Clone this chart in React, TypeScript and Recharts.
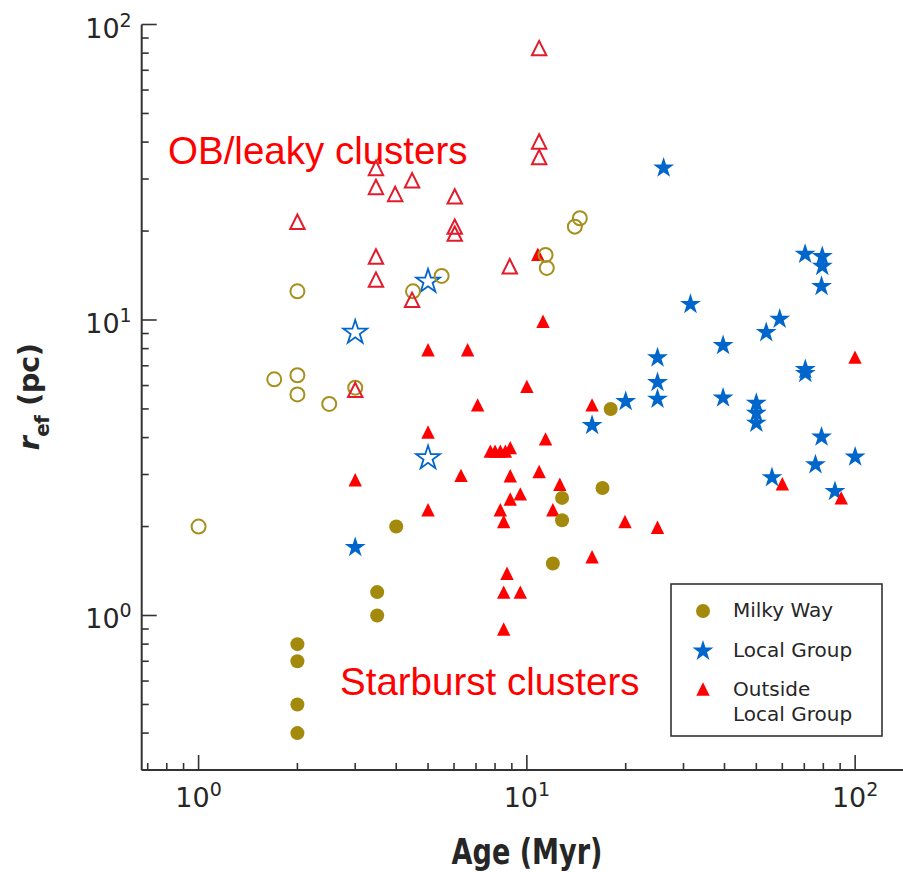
import React from 'react';
import { ScatterChart, Scatter, XAxis, YAxis } from 'recharts';

// ---- data: age (Myr) and effective radius r_ef (pc) ----
// Milky Way, young massive clusters (filled circles)
const mwAge = [2, 2, 2, 2, 3.5, 3.5, 4.0, 12, 12.8, 12.8, 17, 18];
const mwRef = [0.8, 0.7, 0.5, 0.4, 1.2, 1.0, 2.0, 1.5, 2.5, 2.1, 2.7, 5.0];
// Milky Way, OB/leaky associations (open circles)
const mwLeakyAge = [1.0, 1.7, 2, 2, 2, 2.5, 3.0, 4.5, 5.5, 11.4, 11.5, 14.0, 14.5];
const mwLeakyRef = [2.0, 6.3, 6.5, 5.6, 12.5, 5.2, 5.9, 12.5, 14.1, 16.6, 15.0, 20.7, 22.1];
// Local Group (filled stars)
const lgAge = [3.0, 15.8, 20, 25, 25, 25, 26.1, 31.5, 39.6, 39.6, 50, 50, 50, 53.6, 55.8, 58.9, 70.4, 70.5, 70.5, 75.7, 79.4, 79.4, 79, 79, 86.8, 100];
const lgRef = [1.7, 4.4, 5.3, 5.4, 6.15, 7.45, 32.7, 11.3, 8.2, 5.45, 5.23, 4.84, 4.48, 9.07, 2.93, 10.07, 16.7, 6.8, 6.6, 3.24, 16.4, 15.2, 13.0, 4.02, 2.63, 3.44];
// Local Group, leaky (open stars)
const lgLeakyAge = [3.0, 5.0, 5.0];
const lgLeakyRef = [9.07, 13.5, 3.41];
// Outside the Local Group (filled triangles)
const olgAge = [3.0, 5.0, 5.0, 5.0, 6.3, 6.6, 7.08, 7.74, 8.0, 8.3, 8.6, 8.9, 8.9, 8.9, 9.55, 8.3, 8.5, 8.7, 8.5, 9.55, 8.5, 10.0, 10.8, 10.9, 11.2, 11.4, 12.6, 12.0, 15.8, 15.8, 19.9, 25, 60, 90.7, 99.9];
const olgRef = [2.88, 7.93, 4.18, 2.28, 2.98, 7.93, 5.16, 3.6, 3.6, 3.6, 3.6, 3.7, 2.97, 2.48, 2.58, 2.28, 2.08, 1.39, 1.2, 1.2, 0.9, 5.96, 16.7, 3.07, 9.9, 3.96, 2.78, 2.28, 5.16, 1.58, 2.08, 1.99, 2.79, 2.5, 7.49];
// Outside the Local Group, leaky (open triangles)
const olgLeakyAge = [2.0, 3.0, 3.47, 3.47, 3.47, 3.47, 3.97, 4.47, 4.47, 6.03, 6.03, 6.03, 8.87, 10.9, 10.9, 10.9];
const olgLeakyRef = [21.5, 5.8, 32.7, 28.2, 16.4, 13.7, 26.7, 29.7, 11.7, 26.2, 20.7, 19.6, 15.2, 83.2, 40.2, 35.6];

// ---- axes ----
const xMajorTicks = [1, 10, 100];
const xMinorTicks = [0.7, 0.8, 0.9, 2, 3, 4, 5, 6, 7, 8, 9, 20, 30, 40, 50, 60, 70, 80, 90];
const yMajorTicks = [1, 10, 100];
const yMinorTicks = [0.3, 0.4, 0.5, 0.6, 0.7, 0.8, 0.9, 2, 3, 4, 5, 6, 7, 8, 9, 20, 30, 40, 50, 60, 70, 80, 90];
const majorExponent: Record<number, string> = { 1: '0', 10: '1', 100: '2' };
const xDomain: [number, number] = [0.671, 149];
const yDomain: [number, number] = [0.3, 100];

const seriesNames = ['Milky Way', 'Local Group', 'Outside\nLocal Group'];

const zip = (a: number[], r: number[]) => a.map((age, i) => ({ age, ref: r[i] }));

const GOLD = '#A3890C';
const GOLD_EDGE = '#A68F1C';
const BLUE = '#0066CC';
const RED = '#FF0000';
const RED_EDGE = '#E31B2B';
const AXIS = '#333333';
const TEXT = '#262626';
const FONT = '"DejaVu Sans", sans-serif';
const SANS = '"Liberation Sans", Arial, sans-serif';

const W = 920;
const H = 872;
const MAJOR_LEN = 15;
const MINOR_LEN = 7;

function starPoints(cx: number, cy: number, R: number) {
  const r = R * 0.381966;
  const pts: string[] = [];
  for (let i = 0; i < 10; i++) {
    const a = ((-90 + i * 36) * Math.PI) / 180;
    const rad = i % 2 === 0 ? R : r;
    pts.push(`${cx + rad * Math.cos(a)},${cy + rad * Math.sin(a)}`);
  }
  return pts.join(' ');
}

function triPoints(cx: number, cy: number, h: number) {
  return `${cx},${cy - h} ${cx - h},${cy + h} ${cx + h},${cy + h}`;
}

const FilledCircle = (p: any) => <circle cx={p.cx} cy={p.cy} r={7} fill={GOLD} />;
const OpenCircle = (p: any) => <circle cx={p.cx} cy={p.cy} r={7} fill="none" stroke={GOLD_EDGE} strokeWidth={2} />;
const FilledStar = (p: any) => <polygon points={starPoints(p.cx, p.cy, 11)} fill={BLUE} />;
const OpenStar = (p: any) => <polygon points={starPoints(p.cx, p.cy, 12.5)} fill="none" stroke={BLUE} strokeWidth={1.8} />;
const FilledTri = (p: any) => <polygon points={triPoints(p.cx, p.cy, 6.7)} fill={RED} />;
const OpenTri = (p: any) => <polygon points={triPoints(p.cx, p.cy, 7.2)} fill="none" stroke={RED_EDGE} strokeWidth={2} />;

const Sup = ({ x, y, exp, anchor }: { x: number; y: number; exp: string; anchor: 'middle' | 'end' }) => (
  <text x={x} y={y} textAnchor={anchor} fontFamily={FONT} fontSize={27} fill={TEXT}>
    10
    <tspan dy={-11} fontSize={19}>{exp}</tspan>
  </text>
);

const BottomTick = (props: any) => {
  const { x, y, payload } = props;
  const v = payload.value;
  const major = xMajorTicks.includes(v);
  return (
    <g>
      <line x1={x} x2={x} y1={y} y2={y - (major ? MAJOR_LEN : MINOR_LEN)} stroke={AXIS} strokeWidth={1.6} />
      {major && <Sup x={x} y={y + 37} exp={majorExponent[v]} anchor="middle" />}
    </g>
  );
};

const TopTick = (props: any) => {
  const { x, y, payload } = props;
  const major = xMajorTicks.includes(payload.value);
  return <line x1={x} x2={x} y1={y} y2={y + (major ? MAJOR_LEN : MINOR_LEN)} stroke={AXIS} strokeWidth={1.6} />;
};

const LeftTick = (props: any) => {
  const { x, y, payload } = props;
  const v = payload.value;
  const major = yMajorTicks.includes(v);
  return (
    <g>
      <line x1={x} x2={x + (major ? MAJOR_LEN : MINOR_LEN)} y1={y} y2={y} stroke={AXIS} strokeWidth={1.6} />
      {major && <Sup x={x - 10} y={y + 13} exp={majorExponent[v]} anchor="end" />}
    </g>
  );
};

const RightTick = (props: any) => {
  const { x, y, payload } = props;
  const major = yMajorTicks.includes(payload.value);
  return <line x1={x} x2={x - (major ? MAJOR_LEN : MINOR_LEN)} y1={y} y2={y} stroke={AXIS} strokeWidth={1.6} />;
};

const allX = [...xMinorTicks, ...xMajorTicks].sort((a, b) => a - b);
const allY = [...yMinorTicks, ...yMajorTicks].sort((a, b) => a - b);

const Legend = () => {
  const lx = 671;
  const ly = 584;
  const mx = 703;
  const tx = 733;
  return (
    <g>
      <rect x={lx} y={ly} width={211} height={152} fill="#fff" stroke={AXIS} strokeWidth={1.6} />
      <circle cx={mx} cy={611} r={7} fill={GOLD} />
      <polygon points={starPoints(mx, 651, 11)} fill={BLUE} />
      <polygon points={triPoints(mx, 689, 6.7)} fill={RED} />
      <text x={tx} y={617} fontFamily={FONT} fontSize={20} fill={TEXT}>{seriesNames[0]}</text>
      <text x={tx} y={657} fontFamily={FONT} fontSize={20} fill={TEXT}>{seriesNames[1]}</text>
      {seriesNames[2].split('\n').map((line, i) => (
        <text key={i} x={tx} y={696 + i * 25} fontFamily={FONT} fontSize={20} fill={TEXT}>{line}</text>
      ))}
    </g>
  );
};

export default function App() {
  return (
    <div style={{ position: 'fixed', left: 0, top: 0, width: 903, height: 872, overflow: 'hidden', background: '#fff' }}>
      <ScatterChart width={W} height={H} margin={{ top: 24.5, right: 8, bottom: 0, left: 0 }}>
        <XAxis
          xAxisId="bottom"
          dataKey="age"
          type="number"
          scale="log"
          domain={xDomain}
          allowDataOverflow
          ticks={allX}
          interval={0}
          height={102}
          tickSize={0}
          tickMargin={0}
          tickLine={false}
          axisLine={{ stroke: AXIS, strokeWidth: 2 }}
          tick={BottomTick}
        />
        <XAxis
          xAxisId="top"
          orientation="top"
          dataKey="age"
          type="number"
          scale="log"
          domain={xDomain}
          allowDataOverflow
          ticks={allX}
          interval={0}
          height={0}
          tickSize={0}
          tickMargin={0}
          tickLine={false}
          axisLine={{ stroke: AXIS, strokeWidth: 2 }}
          tick={TopTick}
        />
        <YAxis
          yAxisId="left"
          dataKey="ref"
          type="number"
          scale="log"
          domain={yDomain}
          allowDataOverflow
          ticks={allY}
          interval={0}
          width={141.7}
          tickSize={0}
          tickMargin={0}
          tickLine={false}
          axisLine={{ stroke: AXIS, strokeWidth: 2 }}
          tick={LeftTick}
        />
        <YAxis
          yAxisId="right"
          orientation="right"
          dataKey="ref"
          type="number"
          scale="log"
          domain={yDomain}
          allowDataOverflow
          ticks={allY}
          interval={0}
          width={0}
          tickSize={0}
          tickMargin={0}
          tickLine={false}
          axisLine={{ stroke: AXIS, strokeWidth: 2 }}
          tick={RightTick}
        />
        <Scatter name="Local Group" xAxisId="bottom" yAxisId="left" data={zip(lgAge, lgRef)} shape={FilledStar} isAnimationActive={false} />
        <Scatter name="Local Group (leaky)" xAxisId="bottom" yAxisId="left" data={zip(lgLeakyAge, lgLeakyRef)} shape={OpenStar} isAnimationActive={false} />
        <Scatter name="Outside Local Group" xAxisId="bottom" yAxisId="left" data={zip(olgAge, olgRef)} shape={FilledTri} isAnimationActive={false} />
        <Scatter name="Milky Way" xAxisId="bottom" yAxisId="left" data={zip(mwAge, mwRef)} shape={FilledCircle} isAnimationActive={false} />
        <Scatter name="Milky Way (leaky)" xAxisId="bottom" yAxisId="left" data={zip(mwLeakyAge, mwLeakyRef)} shape={OpenCircle} isAnimationActive={false} />
        <Scatter name="Outside Local Group (leaky)" xAxisId="bottom" yAxisId="left" data={zip(olgLeakyAge, olgLeakyRef)} shape={OpenTri} isAnimationActive={false} />

        <text x={168} y={164} fontFamily={SANS} fontSize={38.5} fill={RED}>OB/leaky clusters</text>
        <text x={340} y={695} fontFamily={SANS} fontSize={38.5} fill={RED}>Starburst clusters</text>
        <Legend />

        <text
          x={527}
          y={864}
          textAnchor="middle"
          fontFamily={FONT}
          fontWeight="bold"
          fontSize={35}
          textLength={151}
          lengthAdjust="spacingAndGlyphs"
          fill={TEXT}
        >
          Age (Myr)
        </text>
        <text
          x={-397}
          y={39}
          transform="rotate(-90)"
          textAnchor="middle"
          fontFamily={FONT}
          fontWeight="bold"
          fontSize={29}
          fill={TEXT}
          letterSpacing={-0.5}
        >
          <tspan fontStyle="italic">r</tspan>
          <tspan fontSize={20} dy={10}>ef</tspan>
          <tspan dy={-10}> (pc)</tspan>
        </text>
      </ScatterChart>
    </div>
  );
}
